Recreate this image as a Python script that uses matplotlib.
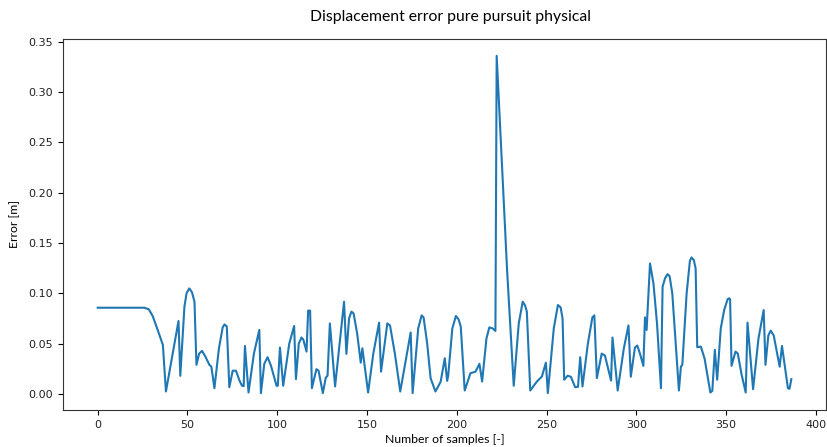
import numpy as np
import matplotlib.pyplot as plt

# sample index and displacement error (m) along the run
samples = [0, 26, 28.5, 30.7, 33.5, 36.3, 38, 45, 46, 48.3, 49.5, 51, 52.5, 53.9,
           55, 56.5, 58.1, 60, 62.2, 63.3, 65, 67.5, 69.6, 70.6, 71.9, 73.3, 75.2,
           77, 79, 80.4, 81.3, 82, 84, 87, 90, 90.9, 92.8, 94.6, 96.5, 99.6, 100.3,
           101.5, 103.3, 106.7, 109.4, 110.4, 112, 113.5, 114.5, 116.3, 117.2, 118.3,
           119.3, 121.8, 123, 125.4, 127, 128, 129.3, 132.2, 137.2, 138.5, 140, 141.3,
           142.5, 144.5, 146.5, 147.4, 150.6, 153.5, 156.7, 157.8, 161.3, 162.8, 165.5,
           168.5, 174.3, 175.4, 178.5, 180.4, 181.5, 183.5, 185.4, 188.1, 191, 193.3,
           194.6, 195.2, 197.5, 199.5, 201, 202.2, 204.4, 207.6, 210.4, 212.6, 214.1,
           216.5, 218.1, 220, 221.5, 222.2, 228, 231.7, 234.5, 236.7, 238, 239, 240.9,
           244.6, 247.4, 249.6, 250.7, 254, 256.3, 257.8, 258.9, 259.8, 261.7, 263.5,
           265.9, 267.5, 268.7, 270, 273, 275.5, 276.6, 278, 280.7, 282.5, 285.9, 286.7,
           289.6, 293, 295.6, 296.9, 299.2, 300.5, 302, 303.9, 304.8, 305.7, 307.6,
           309.5, 311.5, 313.7, 314.6, 316, 317.4, 318.5, 320, 323.7, 324.8, 325.6, 328,
           329.8, 330.7, 332, 333, 333.9, 335.9, 338, 341.2, 342.3, 343.7, 345, 347,
           348.9, 350.8, 351.7, 352.2, 353, 355.2, 356.5, 358.5, 360.9, 361.9, 365, 368,
           370.9, 371.9, 373.5, 374.8, 376.5, 379.8, 381.1, 384.4, 385.3, 386.3]
error = [0.0856, 0.0856, 0.084, 0.077, 0.063, 0.0486, 0.0023, 0.0724, 0.0179, 0.0866,
         0.100, 0.1048, 0.101, 0.0916, 0.0288, 0.040, 0.0427, 0.037, 0.0288, 0.027,
         0.0056, 0.045, 0.066, 0.069, 0.067, 0.0066, 0.023, 0.023, 0.013, 0.008,
         0.0076, 0.0476, 0.0013, 0.040, 0.0635, 0.0007, 0.030, 0.0364, 0.028, 0.008,
         0.008, 0.046, 0.008, 0.05, 0.0675, 0.0146, 0.050, 0.056, 0.054, 0.042,
         0.0827, 0.0827, 0.0056, 0.0245, 0.023, 0.0007, 0.016, 0.018, 0.070, 0.0073,
         0.0916, 0.0397, 0.075, 0.0817, 0.080, 0.060, 0.031, 0.0453, 0.0013, 0.040,
         0.0708, 0.022, 0.070, 0.068, 0.040, 0.0023, 0.061, 0.0007, 0.065, 0.078,
         0.076, 0.050, 0.0156, 0.0023, 0.012, 0.0354, 0.0129, 0.018, 0.065, 0.0774,
         0.074, 0.0668, 0.0033, 0.0205, 0.022, 0.0298, 0.0122, 0.055, 0.066, 0.065,
         0.0625, 0.336, 0.123, 0.008, 0.070, 0.0916, 0.088, 0.0817, 0.0033, 0.0122,
         0.0172, 0.031, 0.0007, 0.065, 0.0883, 0.086, 0.075, 0.014, 0.018, 0.017,
         0.0066, 0.007, 0.0364, 0.0073, 0.050, 0.076, 0.078, 0.0156, 0.040, 0.038,
         0.0132, 0.056, 0.0033, 0.045, 0.068, 0.017, 0.046, 0.048, 0.040, 0.0278,
         0.076, 0.0635, 0.1296, 0.110, 0.070, 0.0056, 0.1065, 0.115, 0.119, 0.117,
         0.100, 0.0033, 0.027, 0.029, 0.100, 0.132, 0.1356, 0.133, 0.1247, 0.0463,
         0.047, 0.035, 0.0013, 0.003, 0.0437, 0.014, 0.065, 0.0833, 0.094, 0.095,
         0.094, 0.0278, 0.042, 0.040, 0.020, 0.0013, 0.0708, 0.0046, 0.055, 0.0833,
         0.0288, 0.058, 0.0628, 0.058, 0.027, 0.0476, 0.0056, 0.005, 0.0146]

fig = plt.figure(figsize=(8.27, 4.47), dpi=100)
ax = fig.add_axes([0.0762, 0.0828, 0.9226, 0.830])

ax.plot(samples, error, color='#1f77b4', linewidth=1.5)
ax.set_xticks(np.arange(0, 401, 50))
ax.set_yticks(np.arange(0, 0.351, 0.05))
ax.tick_params(labelsize=8, length=3.5, labelcolor='#222222')
for s in ax.spines.values():
    s.set_color('#333333')

lab_font = dict(family='Lato', size=8.8)
ax.set_xlabel('Number of samples [-]', fontdict=lab_font, labelpad=3)
ax.set_ylabel('Error [m]', fontdict=lab_font, labelpad=6)
fig.text(0.545, 0.962, 'Displacement error pure pursuit physical', ha='center', va='center',
         family='Lato', size=11.3)

fig.savefig('out.png', dpi=100)
